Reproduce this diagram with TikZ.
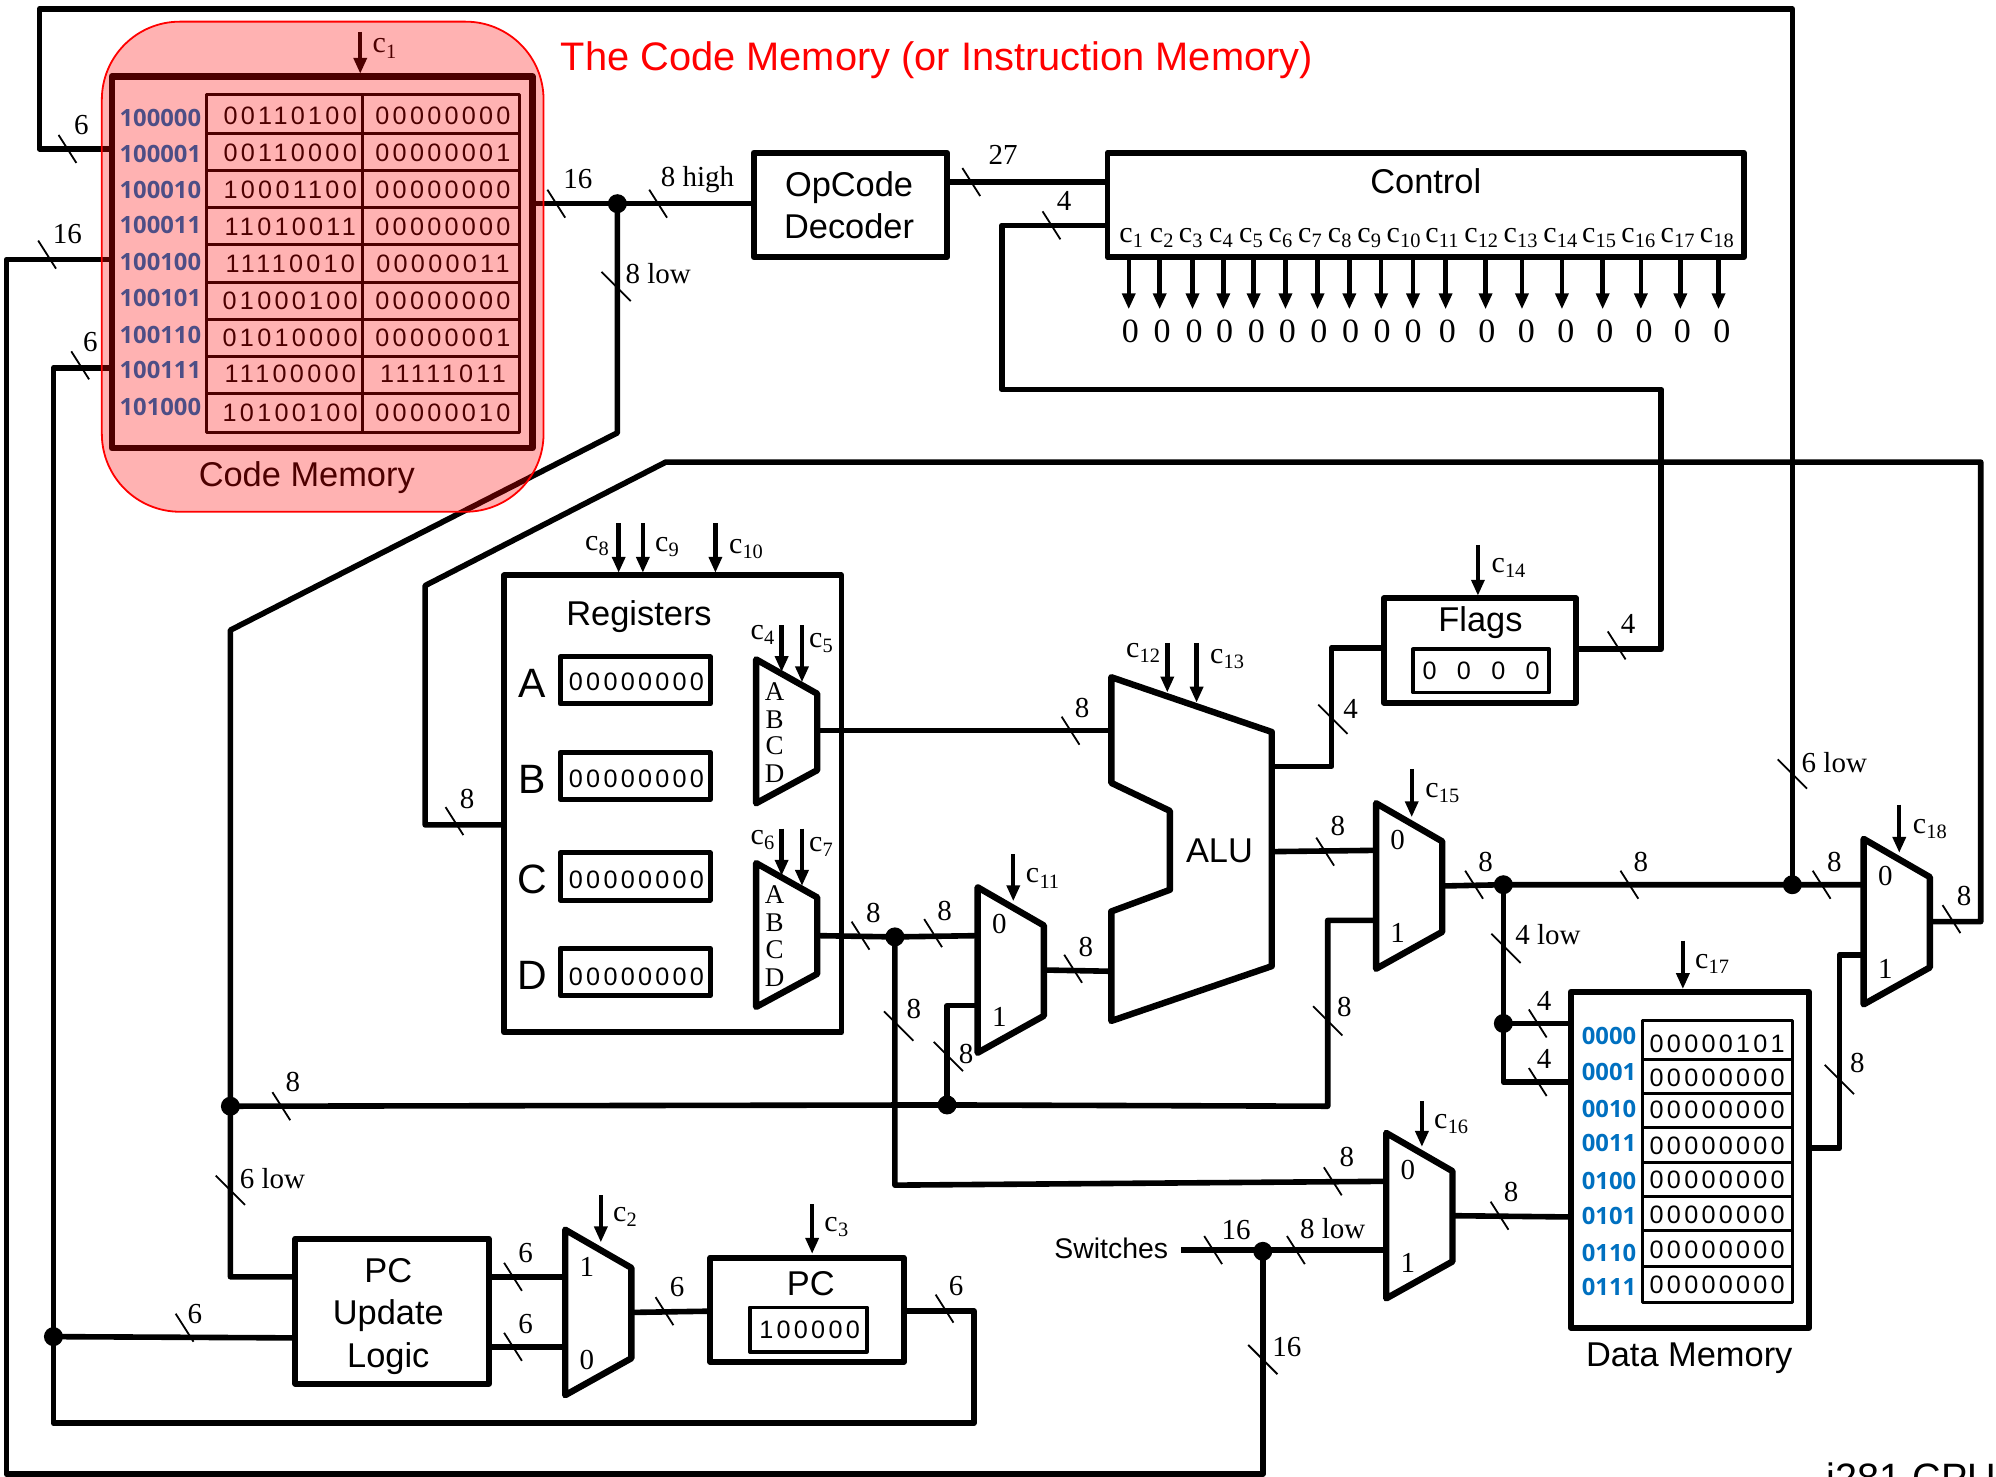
\documentclass[tikz,border=0pt]{standalone}
\usepackage{fontspec}
\usetikzlibrary{arrows.meta,calc}
\setmainfont{Liberation Serif}
\newfontfamily\arialf{Liberation Sans}
\newfontfamily\digf[LetterSpace=13]{Liberation Sans}
\newfontfamily\addrf{Open Sans}
\definecolor{addrblue}{RGB}{0,112,192}
\newcount\lblc
\newcommand\csig[1]{{\fontsize{15}{15}\selectfont c\kern0.1pt\lower2.6pt\hbox{\fontsize{10.2}{11}\selectfont #1}}}
\tikzset{
  wire/.style={line width=2.8pt,line join=round},
  boxline/.style={draw,line width=2.9pt,line join=round,inner sep=0pt},
  thickbox/.style={draw,line width=3.4pt,line join=round,inner sep=0pt},
  regbox/.style={draw,line width=2.5pt,line join=round,inner sep=0pt},
  thinbox/.style={draw,line width=1.8pt,line join=round,inner sep=0pt},
  cell/.style={draw,line width=1.5pt,line join=round,inner sep=0pt},
  slashmark/.style={line width=0.9pt},
  dot/.style={circle,fill=black,inner sep=0pt,minimum size=9.5pt},
  sigarrow/.style={line width=2.2pt,-{Triangle[length=8pt,width=6.4pt]},shorten >=0pt},
  txt/.style={inner sep=0pt,outer sep=0pt},
  wlabel/.style={txt,font=\fontsize{14.5}{15}\selectfont},
  bigsans/.style={txt,font=\arialf\fontsize{17.2}{19}\selectfont,align=center},
  dig/.style={txt,font=\digf\fontsize{12.6}{14}\selectfont},
  addr/.style={txt,font=\addrf\bfseries\fontsize{11.9}{12}\selectfont,text=addrblue},
  muxshape/.style={draw,line width=3.2pt,line join=round},
}
% rectangle node from corner coordinates
\newcommand\boxn[6]{\node[#1,minimum width={(#5-#3)*0.6365pt},minimum height={(#6-#4)*0.6365pt}] (#2) at ({(#3+#5)/2},{(#4+#6)/2}) {};}
% wire label with generated name
\def\lab(#1,#2)#3{\global\advance\lblc by 1 \node[wlabel] (lab\the\lblc) at (#1,#2) {#3};}
\def\slash(#1,#2){\draw[slashmark] ($(#1,#2)+(-7,-11)$) -- ($(#1,#2)+(7,11)$);}
\def\vslash(#1,#2){\draw[slashmark] ($(#1,#2)+(-11.5,-11.5)$) -- ($(#1,#2)+(11.5,11.5)$);}
% control arrow
\newcommand\sigar[4]{\coordinate (#1-a) at (#2,#3); \coordinate (#1-b) at (#2,#4); \draw[sigarrow] (#1-a) -- (#1-b);}
% multiplexer: name, x, y, upper label, lower label
\newcommand\muxn[5]{%
  \coordinate (#1-tl) at (#2,#3);
  \coordinate (#1-tr) at ($(#2,#3)+(52,30)$);
  \coordinate (#1-br) at ($(#2,#3)+(52,101)$);
  \coordinate (#1-bl) at ($(#2,#3)+(0,130)$);
  \coordinate (#1-out) at ($(#2,#3)+(52,65)$);
  \draw[muxshape] (#1-tl) -- (#1-tr) -- (#1-br) -- (#1-bl) -- cycle;
  \node[wlabel] (#1-a) at ($(#2,#3)+(17,29)$) {#4};
  \node[wlabel] (#1-b) at ($(#2,#3)+(17,102)$) {#5};
}
% A-B-C-D selector
\newcommand\seln[3]{%
  \coordinate (#1-tl) at (#2,#3);
  \coordinate (#1-tr) at ($(#2,#3)+(48,27)$);
  \coordinate (#1-br) at ($(#2,#3)+(48,87)$);
  \coordinate (#1-bl) at ($(#2,#3)+(0,113)$);
  \coordinate (#1-out) at ($(#2,#3)+(48,57)$);
  \draw[muxshape] (#1-tl) -- (#1-tr) -- (#1-br) -- (#1-bl) -- cycle;
  \foreach \t/\d in {A/25,B/47,C/68,D/90}{\node[txt,font=\fontsize{13.5}{14}\selectfont] (#1-\t) at ($(#2,#3)+(14.5,\d)$) {\t};}
}
\begin{document}
\begin{tikzpicture}[x=0.6365pt,y=-0.6365pt]
\useasboundingbox (0,0) rectangle (1568,1160);

%==== boxes
\boxn{thickbox}{codemem}{88}{60}{418}{352}
\boxn{boxline}{opcode}{592}{120}{744}{202}
\boxn{boxline}{control}{870}{120}{1370}{202}
\boxn{boxline}{regs}{396}{452}{661}{811}
\boxn{boxline}{flags}{1087}{470}{1238}{552}
\boxn{thinbox}{flagval}{1110}{510}{1217}{544}
\boxn{boxline}{datamem}{1234}{779}{1421}{1043}
\boxn{boxline}{pclogic}{232}{973}{384}{1087}
\boxn{boxline}{pcbox}{558}{988}{710}{1070}
\boxn{thinbox}{pcval}{589}{1027}{681}{1062}
\boxn{regbox}{rega}{440}{516}{558}{553}
\boxn{regbox}{regb}{440}{591}{558}{628}
\boxn{regbox}{regc}{440}{670}{558}{707}
\boxn{regbox}{regd}{440}{745}{558}{782}

%==== code memory table
\foreach \n/\ya/\yb/\aa/\bb/\ad/\yt/\yd in {
 1/74/105/00110100/00000000/100000/91/93,
 2/105/134/00110000/00000001/100001/120/121,
 3/134/163/10001100/00000000/100010/149/149,
 4/163/192/11010011/00000000/100011/178/177,
 5/192/222/11110010/00000011/100100/207/206,
 6/222/251/01000100/00000000/100101/236/234,
 7/251/280/01010000/00000001/100110/265/263,
 8/280/309/11100000/11111011/100111/294/291,
 9/309/340/10100100/00000010/101000/324/320}{
  \boxn{cell}{cma\n}{162}{\ya}{285}{\yb}
  \boxn{cell}{cmb\n}{285}{\ya}{408}{\yb}
  \node[dig] (cmat\n) at (228,\yt) {\aa};
  \node[dig] (cmbt\n) at (348,\yt) {\bb};
  \node[addr] (cmad\n) at (126,\yd) {\ad};
}
\node[bigsans] (cmname) at (241,375.5) {Code Memory};

%==== data memory table
\foreach \n/\ya/\yb/\val/\ad/\yt/\yd in {
 1/802/832/00000101/0000/820/814,
 2/832/859/00000000/0001/847/842,
 3/859/886/00000000/0010/872/871,
 4/886/913/00000000/0011/900/898,
 5/913/940/00000000/0100/927/928,
 6/940/967/00000000/0101/954/955,
 7/967/995/00000000/0110/982/984,
 8/995/1023/00000000/0111/1009/1011}{
  \boxn{cell}{dmc\n}{1290}{\ya}{1408}{\yb}
  \node[dig] (dmt\n) at (1349,\yt) {\val};
  \node[addr] (dma\n) at (1264,\yd) {\ad};
}
\node[bigsans] (dmname) at (1327,1067) {Data Memory};

%==== big labels
\node[bigsans,font=\arialf\fontsize{17.2}{21}\selectfont] (opname) at (667,161) {OpCode\\Decoder};
\node[bigsans] (ctlname) at (1120,142) {Control};
\node[bigsans] (regname) at (502,484) {Registers};
\node[bigsans] (flname) at (1163,489) {Flags};
\node[bigsans] (aluname) at (958,668) {ALU};
\node[bigsans] (pcname) at (637,1008) {PC};
\node[bigsans,font=\arialf\fontsize{17.2}{21.3}\selectfont] (plname) at (305,1034) {PC\\Update\\Logic};
\node[bigsans,font=\arialf\fontsize{14.2}{16}\selectfont] (swname) at (873,981) {Switches};
\node[txt,font=\arialf\fontsize{19.9}{21}\selectfont,text=red] (title) at (736,47) {The Code Memory (or Instruction Memory)};
\node[txt,anchor=base west,font=\arialf\fontsize{19.8}{21}\selectfont] (cpuname) at (1435,1172) {i281 CPU};

\foreach \r/\t/\y in {rega/A/537,regb/B/612,regc/C/691,regd/D/766}{
  \node[txt,font=\arialf\fontsize{20.5}{21}\selectfont] (\r l) at (418,\y) {\t};
}
\foreach \r/\y in {rega/536,regb/612,regc/691,regd/767}{
  \node[dig] (\r t) at (500,\y) {00000000};
}
\foreach \x [count=\i] in {1123,1150,1177,1204}{\node[dig] (flz\i) at (\x,527) {0};}
\node[dig] (pct) at (636,1045) {100000};

%==== multiplexers
\seln{sela}{594}{518}
\seln{selb}{594}{678}
\muxn{mxe}{768}{697}{0}{1}
\muxn{mxf}{1081}{631}{0}{1}
\muxn{mxr}{1464}{659}{0}{1}
\muxn{mxg}{1089}{890}{0}{1}
\muxn{mxc}{444}{966}{1}{0}
\coordinate (alu1) at (873,532); \coordinate (alu2) at (999,575); \coordinate (alu3) at (999,759);
\coordinate (alu4) at (873,802); \coordinate (alu5) at (873,716); \coordinate (alu6) at (919,699);
\coordinate (alu7) at (919,637); \coordinate (alu8) at (873,615);
\draw[muxshape] (alu1) -- (alu2) -- (alu3) -- (alu4) -- (alu5) -- (alu6) -- (alu7) -- (alu8) -- cycle;

%==== junctions
\node[dot] (j1) at (485,160) {};
\node[dot] (j2) at (181,869) {};
\node[dot] (j3) at (744,868) {};
\node[dot] (j4) at (703,736) {};
\node[dot] (j5) at (1181,695) {};
\node[dot] (j6) at (1408,695) {};
\node[dot] (j7) at (1181,804) {};
\node[dot] (j8) at (992,983) {};
\node[dot] (j9) at (42,1050) {};

%==== connector end points
\coordinate (cmOut) at (418,160);
\coordinate (cmA) at (88,117);
\coordinate (cmB) at (88,204);
\coordinate (cmC) at (88,289);
\coordinate (opIn) at (592,160);
\coordinate (opOut) at (744,143);
\coordinate (ctA) at (870,143);
\coordinate (ctB) at (870,177);
\coordinate (flOut) at (1238,510);
\coordinate (flIn) at (1087,509);
\coordinate (aluF) at (999,602);
\coordinate (aluO) at (999,669);
\coordinate (aluA) at (873,574);
\coordinate (aluB) at (873,763);
\coordinate (rgIn) at (396,648);
\coordinate (dmA) at (1234,804);
\coordinate (dmB) at (1234,850);
\coordinate (dmC) at (1234,956);
\coordinate (dmD) at (1421,902);
\coordinate (plA) at (232,1003);
\coordinate (plB) at (232,1051);
\coordinate (plC) at (384,1003);
\coordinate (plD) at (384,1058);
\coordinate (pcI) at (558,1030);
\coordinate (pcO) at (710,1030);
\coordinate (swS) at (928,982);
\coordinate (mxeA) at (768,735);
\coordinate (mxeB) at (768,790);
\coordinate (mxfA) at (1081,668);
\coordinate (mxfB) at (1081,723);
\coordinate (mxrA) at (1464,695);
\coordinate (mxrB) at (1464,750);
\coordinate (mxgA) at (1089,928);
\coordinate (mxgB) at (1089,982);
\coordinate (mxcA) at (444,1003);
\coordinate (mxcB) at (444,1058);

%==== wires
\draw[wire] (cmA) -- (31,117) -- (31,7) -- (1408,7) -- (j6.center);
\draw[wire] (cmB) -- (5,204) -- (5,1158) -- (992,1158) -- (j8.center);
\draw[wire] (cmC) -- (42,289) -- (j9.center) -- (42,1118) -- (765,1118) -- (765,1030) -- (pcO);
\draw[wire] (plB) -- (j9.center);
\draw[wire] (cmOut) -- (opIn);
\draw[wire] (j1.center) -- (485,340) -- (181,495) -- (j2.center) -- (181,1003) -- (plA);
\draw[wire] (j2.center) -- (j3.center) -- (1043,869) -- (1043,723) -- (mxfB);
\draw[wire] (j3.center) -- (744,790) -- (mxeB);
\draw[wire] (opOut) -- (ctA);
\draw[wire] (ctB) -- (787,177) -- (787,306) -- (1305,306) -- (1305,510) -- (flOut);
\draw[wire] (sela-out|-aluA) -- (aluA);
\draw[wire] (selb-out) -- (j4.center) -- (mxeA);
\draw[wire] (j4.center) -- (703,931) -- (mxgA);
\draw[wire] (mxe-out) -- (aluB);
\draw[wire] (aluO) -- (mxfA);
\draw[wire] (aluF) -- (1046,602) -- (1046,509) -- (flIn);
\draw[wire] (mxf-out) -- (j5.center) -- (j6.center) -- (mxrA);
\draw[wire] (j5.center) -- (j7.center) -- (1181,850) -- (dmB);
\draw[wire] (j7.center) -- (dmA);
\draw[wire] (mxr-out) -- (1556,724) -- (1556,363) -- (523,363) -- (334,460) -- (334,648) -- (rgIn);
\draw[wire] (dmD) -- (1445,902) -- (1445,750) -- (mxrB);
\draw[wire] (mxg-out) -- (dmC);
\draw[wire] (swS) -- (mxgB);
\draw[wire] (plC) -- (mxcA);
\draw[wire] (plD) -- (mxcB);
\draw[wire] (mxc-out) -- (pcI);

%==== control outputs
\foreach \ax/\zx/\lx [count=\i] in {
 886.7/888/888.7, 911/913/912.6, 936.8/938/935.4, 961/962/959.2, 984.8/987/982.7,
 1009.8/1011.4/1005.8, 1035/1036/1029, 1060/1061/1052.5, 1085/1085.8/1075.6, 1110/1110/1102.6,
 1135.6/1137/1132.8, 1167/1168/1163.6, 1195.6/1199/1194.5, 1227/1230/1225.7, 1259/1260.7/1256.2,
 1289/1291.6/1287, 1320/1321.7/1317.9, 1350/1352.6/1348.7}{
  \sigar{ct\i}{\ax}{202}{243}
  \node[wlabel,font=\fontsize{17}{17}\selectfont] (ctz\i) at (\zx,260) {0};
  \node[txt] (ctl\i) at (\lx,187) {\csig{\i}};
}

%==== control inputs
\sigar{sc1}{283}{25}{58}
\sigar{sc2}{472}{939}{976}
\sigar{sc3}{638}{946}{985}
\sigar{sc4}{614}{491}{528}
\sigar{sc5}{630}{491}{536}
\sigar{sc6}{614}{651}{688}
\sigar{sc7}{630}{651}{696}
\sigar{sc8}{486}{411}{450}
\sigar{sc9}{505}{411}{450}
\sigar{sc10}{562}{411}{450}
\sigar{sc11}{796}{671}{708}
\sigar{sc12}{917}{505}{544}
\sigar{sc13}{940}{505}{552}
\sigar{sc14}{1161}{428}{468}
\sigar{sc15}{1109}{604}{642}
\sigar{sc16}{1117}{865}{901}
\sigar{sc17}{1322}{739}{777}
\sigar{sc18}{1492}{632}{670}
\foreach \i/\x/\y in {1/302/38,2/491/956,3/657/964,4/599/499,5/645/505,6/599/660,7/645/665,8/469/429,9/524/430,10/586/431,11/819/690,12/898/513,13/964/518,14/1185/446,15/1133/623,16/1140/883,17/1345/757,18/1516/651}{
  \node[txt] (sl\i) at (\x,\y) {\csig{\i}};
}

%==== bus marks
\slash(53,117) \lab(64,98){6}
\slash(37,200) \lab(53,184){16}
\slash(63,287) \lab(71,269){6}
\slash(437,160) \lab(454,141){16}
\slash(517,160) \lab(548,141){8 high}
\vslash(484,225) \lab(517,215){8 low}
\slash(763,143) \lab(788,122){27}
\slash(826,177) \lab(836,158){4}
\slash(1270,507) \lab(1279,490){4}
\slash(357,645) \lab(367,628){8}
\slash(841,574) \lab(850,556){8}
\vslash(1047,565) \lab(1061,557){4}
\slash(676,735) \lab(686,717){8}
\slash(733,733) \lab(742,716){8}
\vslash(706,806) \lab(718,793){8}
\slash(843,761) \lab(853,744){8}
\slash(1041,669) \lab(1051,649){8}
\slash(1158,695) \lab(1167,677){8}
\slash(1280,695) \lab(1289,677){8}
\slash(1431,695) \lab(1441,677){8}
\vslash(1408,608) \lab(1441,599){6 low}
\slash(1533,722) \lab(1543,704){8}
\vslash(1183,745) \lab(1216,734){4 low}
\slash(1208,804) \lab(1213,786){4}
\slash(1208,850) \lab(1213,832){4}
\vslash(1445,848) \lab(1459,835){8}
\vslash(745,830) \lab(759,828){8}
\vslash(1043,802) \lab(1056,791){8}
\slash(221,869) \lab(230,850){8}
\vslash(181,935) \lab(214,926){6 low}
\slash(1047,928) \lab(1058,909){8}
\slash(1178,955) \lab(1187,936){8}
\slash(953,982) \lab(971,966){16}
\slash(1018,982) \lab(1047,965){8 low}
\vslash(992,1068) \lab(1011,1058){16}
\slash(145,1043) \lab(153,1032){6}
\slash(403,1003) \lab(413,984){6}
\slash(403,1058) \lab(413,1040){6}
\slash(522,1030) \lab(532,1011){6}
\slash(742,1028) \lab(751,1010){6}

%==== red highlight on top
\node[draw=red,fill=red,fill opacity=.3,draw opacity=1,line width=0.9pt,rounded corners=39pt,minimum width={347*0.6365pt},minimum height={385*0.6365pt},inner sep=0pt] (highlight) at (253.5,209.5) {};
\end{tikzpicture}
\end{document}
